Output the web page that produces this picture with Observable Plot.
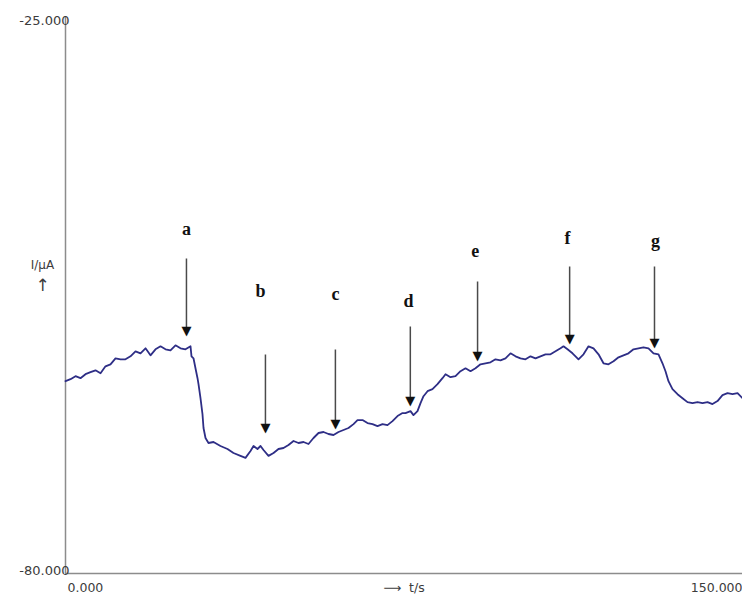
<!DOCTYPE html>
<html>
<head>
<meta charset="utf-8">
<script src="https://cdn.jsdelivr.net/npm/d3@7"></script>
<script src="https://cdn.jsdelivr.net/npm/@observablehq/plot@0.6"></script>
<style>
  html, body { margin: 0; padding: 0; background: #fff; }
  #chart svg { display: block; }
</style>
</head>
<body>
<div id="chart"></div>
<script>
// Current–time trace (amperometry): t in seconds, I in µA
const timeS = [
  0, 1.11, 2.22, 3.32, 4.43, 5.54, 6.65, 7.76, 8.86, 9.97,
  11.08, 12.19, 13.29, 14.40, 15.51, 16.62, 17.73, 18.83, 19.94, 21.05,
  22.16, 23.26, 24.37, 25.48, 26.59, 27.70, 27.92, 28.36, 28.80, 29.25,
  29.47, 29.91, 30.35, 30.58, 31.02, 31.68, 32.79, 34.34, 35.89, 37.22,
  38.77, 39.88, 40.99, 41.66, 42.54, 43.21, 43.87, 44.98, 46.09, 47.19,
  48.30, 49.41, 50.52, 51.63, 52.73, 53.84, 54.95, 56.06, 57.16, 58.27,
  59.38, 60.49, 61.60, 62.70, 63.81, 64.70, 65.81, 66.91, 68.02, 69.13,
  70.24, 71.34, 72.45, 73.56, 74.67, 75.33, 76.44, 77.10, 77.99, 78.66,
  79.32, 80.21, 81.31, 82.42, 83.53, 84.20, 85.31, 86.41, 87.52, 88.63,
  89.74, 90.84, 91.95, 93.06, 94.17, 95.27, 96.38, 97.49, 98.60, 99.71,
  100.81, 101.92, 103.03, 104.14, 105.24, 106.35, 107.46, 108.57, 109.68, 110.34,
  111.23, 112.33, 113.00, 113.66, 114.77, 115.88, 116.99, 118.10, 119.20, 120.31,
  121.42, 122.53, 123.63, 124.74, 125.85, 126.96, 128.06, 129.17, 130.28, 131.39,
  132.27, 132.94, 133.60, 134.49, 135.60, 136.71, 137.81, 138.92, 140.03, 141.14,
  142.25, 143.35, 144.46, 145.57, 146.68, 147.79, 148.90, 150.00
];
const currentUA = [
  -60.77, -60.57, -60.27, -60.47, -60.07, -59.87, -59.68, -59.97, -59.28, -59.08,
  -58.48, -58.58, -58.58, -58.28, -57.78, -57.98, -57.48, -58.18, -57.58, -57.28,
  -57.58, -57.68, -57.18, -57.48, -57.58, -57.28, -58.28, -58.48, -59.48, -60.47,
  -61.07, -62.47, -64.06, -65.45, -66.45, -66.95, -66.85, -67.25, -67.55, -67.95,
  -68.24, -68.44, -67.75, -67.25, -67.55, -67.25, -67.65, -68.24, -67.95, -67.55,
  -67.45, -67.15, -66.75, -66.95, -66.85, -67.05, -66.45, -65.95, -65.85, -66.05,
  -66.15, -65.85, -65.65, -65.45, -65.06, -64.66, -64.66, -64.96, -65.06, -65.26,
  -65.06, -65.16, -64.76, -64.26, -63.96, -63.96, -63.76, -64.16, -63.76, -62.96,
  -62.27, -61.77, -61.57, -61.07, -60.47, -60.07, -60.37, -60.27, -59.77, -59.48,
  -59.77, -59.48, -59.08, -58.98, -58.88, -58.58, -58.68, -58.48, -57.98, -58.28,
  -58.48, -58.58, -58.28, -58.48, -58.28, -58.08, -58.08, -57.78, -57.48, -57.28,
  -57.58, -57.98, -58.28, -58.58, -58.08, -57.28, -57.48, -58.08, -58.98, -59.08,
  -58.78, -58.38, -58.18, -57.98, -57.58, -57.48, -57.38, -57.48, -57.98, -58.08,
  -58.98, -59.77, -60.77, -61.57, -62.07, -62.47, -62.86, -62.96, -62.86, -62.96,
  -62.86, -63.06, -62.76, -62.17, -61.97, -62.07, -61.97, -62.47
];

// Additions marked a–g: arrow shaft from top to tip, letter above
const markLetters = ["a", "b", "c", "d", "e", "f", "g"];
const arrowTime   = [26.8, 44.3, 59.8, 76.4, 91.3, 111.7, 130.5];
const arrowTop    = [-48.5, -58.1, -57.6, -55.3, -50.8, -49.3, -49.3];
const arrowTip    = [-55.8, -65.5, -65.1, -62.8, -58.3, -56.6, -57.0];
const letterTime  = [26.8, 43.2, 59.8, 76.0, 90.8, 111.2, 130.7];
const letterLevel = [-45.6, -51.8, -52.1, -52.8, -47.8, -46.5, -46.8];

// Axis extremes and their printed labels
const yTicks = [-25, -80];
const yTickLabels = ["-25.000", "-80.000"];
const xTicks = [0, 150];
const xTickLabels = ["0.000", "150.000"];
const xAxisTitle = "⟶  t/s";
const yAxisTitle = "I/µA";

const trace = timeS.map((t, i) => ({t, I: currentUA[i]}));
const arrows = markLetters.map((k, i) => ({
  k, t: arrowTime[i], top: arrowTop[i], tip: arrowTip[i],
  lt: letterTime[i], lv: letterLevel[i]
}));
const yLab = yTicks.map((v, i) => ({v, s: yTickLabels[i]}));
const xLab = xTicks.map((v, i) => ({v, s: xTickLabels[i]}));

const axisColor = "#8c8c8c";
const textColor = "#3c3c3c";

const chart = Plot.plot({
  width: 742,
  height: 596,
  marginTop: 23,
  marginBottom: 23,
  marginLeft: 65,
  marginRight: 0,
  style: {fontFamily: "'DejaVu Sans', sans-serif", background: "#fff"},
  x: {domain: [0, 150], axis: null},
  y: {domain: [-80, -25], axis: null},
  marks: [
    // axis lines
    Plot.ruleX([0], {y1: -80, y2: -24.4, stroke: axisColor, strokeWidth: 1.5}),
    Plot.ruleY([-80], {x1: 0, x2: 150, stroke: axisColor, strokeWidth: 1.5}),
    // y tick labels sit just above their level
    Plot.text(yLab, {
      x: 0, y: "v", text: "s", textAnchor: "end", lineAnchor: "bottom",
      dx: 4, dy: 1, fontSize: 13, fill: textColor
    }),
    // x tick labels under the axis
    Plot.text(xLab.slice(0, 1), {
      x: "v", y: -80, text: "s", textAnchor: "start", lineAnchor: "middle",
      dx: 2, dy: 14, fontSize: 12.5, fill: textColor
    }),
    Plot.text(xLab.slice(1), {
      x: "v", y: -80, text: "s", textAnchor: "end", lineAnchor: "middle",
      dx: 0, dy: 14, fontSize: 12.5, fill: textColor
    }),
    // axis titles
    Plot.text([xAxisTitle], {
      frameAnchor: "bottom", lineAnchor: "middle", dy: 14, fontSize: 12.5, fill: textColor
    }),
    Plot.text([yAxisTitle], {
      frameAnchor: "left", lineAnchor: "middle", textAnchor: "middle",
      dx: -23, dy: -33, fontSize: 12, fill: textColor
    }),
    Plot.text(["↑"], {
      frameAnchor: "left", lineAnchor: "middle", textAnchor: "middle",
      dx: -23, dy: -13, fontSize: 17, fill: textColor
    }),
    // current trace
    Plot.line(trace, {
      x: "t", y: "I", stroke: "#2e2e86", strokeWidth: 1.8, curve: "linear"
    }),
    // marker arrows
    Plot.link(arrows, {
      x1: "t", x2: "t", y1: "top", y2: "tip", stroke: "#4a4a4a", strokeWidth: 1.5
    }),
    Plot.text(arrows, {
      x: "t", y: "tip", text: () => "▼", lineAnchor: "bottom", dy: 3,
      fontSize: 13, fill: "#111"
    }),
    Plot.text(arrows, {
      x: "lt", y: "lv", text: "k", lineAnchor: "middle",
      fontFamily: "'Liberation Serif', serif", fontWeight: "bold", fontSize: 18, fill: "#111"
    })
  ]
});

document.getElementById("chart").appendChild(chart);
</script>
</body>
</html>
